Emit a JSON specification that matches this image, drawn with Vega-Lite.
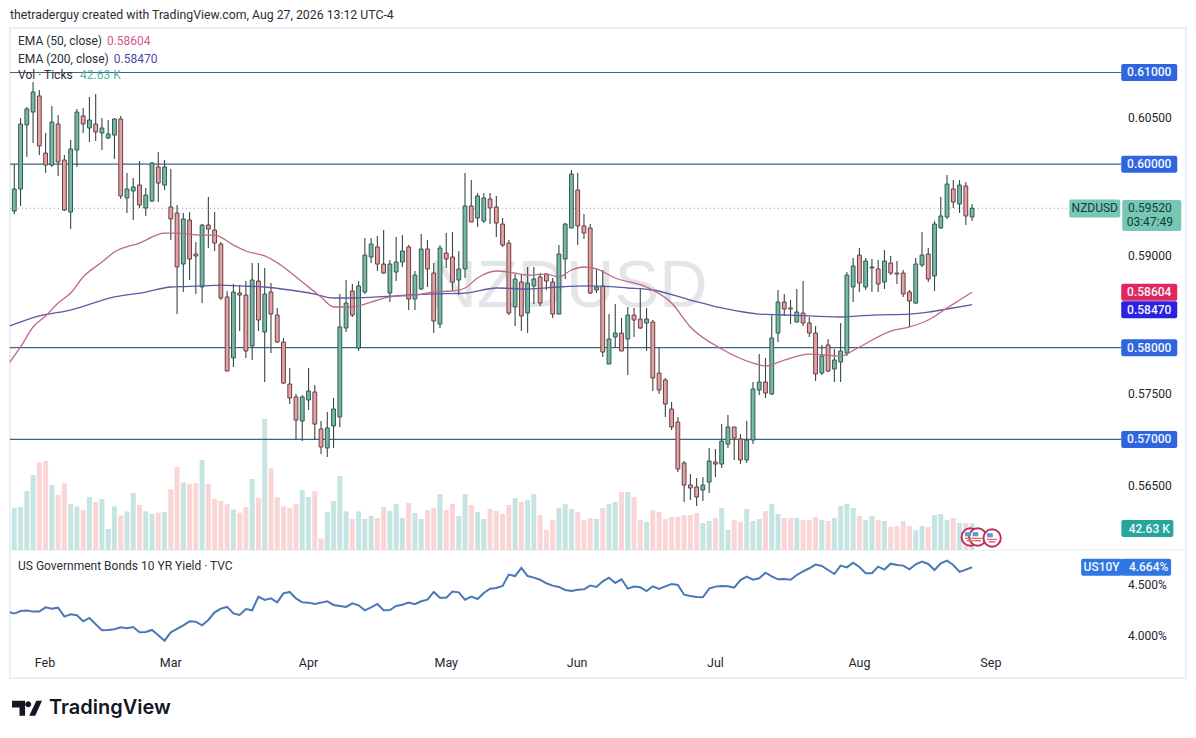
{"$schema":"https://vega.github.io/schema/vega-lite/v6.json","autosize":{"type":"fit","contains":"padding"},"width":1196,"height":738,"padding":0,"background":"#ffffff","config":{"view":{"stroke":null},"text":{"font":"Roboto"}},
"datasets":{
"ohlc":[
{"i":0,"o":0.5949,"h":0.60002,"l":0.59457,"c":0.5973,"v":67.7,"y10":4.209},
{"i":1,"o":0.5973,"h":0.60504,"l":0.59545,"c":0.60438,"v":68.8,"y10":4.235},
{"i":2,"o":0.60428,"h":0.60624,"l":0.60079,"c":0.60602,"v":94.3,"y10":4.239},
{"i":3,"o":0.60569,"h":0.60896,"l":0.60231,"c":0.60787,"v":119.9,"y10":4.229},
{"i":4,"o":0.60744,"h":0.60809,"l":0.601,"c":0.60199,"v":140.2,"y10":4.229},
{"i":5,"o":0.60122,"h":0.6034,"l":0.59904,"c":0.59991,"v":142.3,"y10":4.271},
{"i":6,"o":0.59991,"h":0.60635,"l":0.5997,"c":0.6046,"v":103.9,"y10":4.258},
{"i":7,"o":0.60438,"h":0.60536,"l":0.59872,"c":0.60024,"v":87.9,"y10":4.268},
{"i":8,"o":0.60046,"h":0.601,"l":0.5949,"c":0.59501,"v":106.6,"y10":4.18},
{"i":9,"o":0.59479,"h":0.60264,"l":0.59294,"c":0.60166,"v":73.6,"y10":4.203},
{"i":10,"o":0.60155,"h":0.60602,"l":0.5997,"c":0.60569,"v":69.8,"y10":4.193},
{"i":11,"o":0.60526,"h":0.60613,"l":0.6034,"c":0.60438,"v":64.0,"y10":4.134},
{"i":12,"o":0.60395,"h":0.60733,"l":0.60242,"c":0.60482,"v":84.7,"y10":4.167},
{"i":13,"o":0.60438,"h":0.60765,"l":0.60253,"c":0.60351,"v":76.8,"y10":4.105},
{"i":14,"o":0.6034,"h":0.60504,"l":0.60155,"c":0.60395,"v":81.5,"y10":4.046},
{"i":15,"o":0.60286,"h":0.60482,"l":0.60275,"c":0.60329,"v":33.6,"y10":4.049},
{"i":16,"o":0.60318,"h":0.60504,"l":0.60057,"c":0.60493,"v":69.8,"y10":4.056},
{"i":17,"o":0.60493,"h":0.60526,"l":0.59621,"c":0.59654,"v":55.4,"y10":4.075},
{"i":18,"o":0.59632,"h":0.59904,"l":0.59468,"c":0.5973,"v":61.8,"y10":4.065},
{"i":19,"o":0.59708,"h":0.5985,"l":0.59392,"c":0.59752,"v":91.1,"y10":4.078},
{"i":20,"o":0.59773,"h":0.60035,"l":0.59523,"c":0.59555,"v":72.0,"y10":4.026},
{"i":21,"o":0.59523,"h":0.59741,"l":0.59436,"c":0.59664,"v":61.8,"y10":4.029},
{"i":22,"o":0.59599,"h":0.60024,"l":0.59588,"c":0.60013,"v":57.6,"y10":4.049},
{"i":23,"o":0.5997,"h":0.60133,"l":0.59588,"c":0.59795,"v":59.7,"y10":3.997},
{"i":24,"o":0.59773,"h":0.60046,"l":0.59719,"c":0.5997,"v":60.8,"y10":3.944},
{"i":25,"o":0.59534,"h":0.59948,"l":0.59174,"c":0.59403,"v":97.5,"y10":4.026},
{"i":26,"o":0.59468,"h":0.59555,"l":0.58367,"c":0.5888,"v":132.7,"y10":4.059},
{"i":27,"o":0.58912,"h":0.59468,"l":0.58607,"c":0.59403,"v":108.2,"y10":4.095},
{"i":28,"o":0.59392,"h":0.59479,"l":0.58738,"c":0.58967,"v":105.5,"y10":4.134},
{"i":29,"o":0.59021,"h":0.59152,"l":0.58585,"c":0.59,"v":106.6,"y10":4.131},
{"i":30,"o":0.58662,"h":0.59348,"l":0.58487,"c":0.59337,"v":143.9,"y10":4.095},
{"i":31,"o":0.59337,"h":0.59643,"l":0.59087,"c":0.59294,"v":105.5,"y10":4.147},
{"i":32,"o":0.59283,"h":0.59479,"l":0.59054,"c":0.59141,"v":81.5,"y10":4.222},
{"i":33,"o":0.5913,"h":0.59152,"l":0.5852,"c":0.58542,"v":78.4,"y10":4.258},
{"i":34,"o":0.58553,"h":0.58618,"l":0.57746,"c":0.57746,"v":73.6,"y10":4.275},
{"i":35,"o":0.57888,"h":0.58694,"l":0.5779,"c":0.58607,"v":65.0,"y10":4.212},
{"i":36,"o":0.58596,"h":0.58683,"l":0.58182,"c":0.58574,"v":59.7,"y10":4.196},
{"i":37,"o":0.58574,"h":0.58727,"l":0.57888,"c":0.57964,"v":68.8,"y10":4.255},
{"i":38,"o":0.58019,"h":0.58923,"l":0.57866,"c":0.58738,"v":113.5,"y10":4.242},
{"i":39,"o":0.58727,"h":0.58923,"l":0.58182,"c":0.58302,"v":83.1,"y10":4.376},
{"i":40,"o":0.58171,"h":0.58869,"l":0.57626,"c":0.58585,"v":209.5,"y10":4.343},
{"i":41,"o":0.58607,"h":0.58705,"l":0.57942,"c":0.58367,"v":130.6,"y10":4.359},
{"i":42,"o":0.58356,"h":0.58433,"l":0.58051,"c":0.58062,"v":84.7,"y10":4.32},
{"i":43,"o":0.58062,"h":0.58106,"l":0.57604,"c":0.57615,"v":69.8,"y10":4.408},
{"i":44,"o":0.57604,"h":0.57779,"l":0.57386,"c":0.57452,"v":67.2,"y10":4.422},
{"i":45,"o":0.57463,"h":0.57495,"l":0.56994,"c":0.57212,"v":73.6,"y10":4.359},
{"i":46,"o":0.57201,"h":0.57484,"l":0.56983,"c":0.57463,"v":95.9,"y10":4.32},
{"i":47,"o":0.5743,"h":0.57779,"l":0.57321,"c":0.57528,"v":84.7,"y10":4.317},
{"i":48,"o":0.57517,"h":0.57593,"l":0.56994,"c":0.57168,"v":94.3,"y10":4.304},
{"i":49,"o":0.57114,"h":0.57201,"l":0.56841,"c":0.56918,"v":18.7,"y10":4.317},
{"i":50,"o":0.56907,"h":0.57299,"l":0.56809,"c":0.57125,"v":60.8,"y10":4.33},
{"i":51,"o":0.57147,"h":0.57452,"l":0.56907,"c":0.57332,"v":78.4,"y10":4.294},
{"i":52,"o":0.57245,"h":0.58585,"l":0.57136,"c":0.58226,"v":118.3,"y10":4.284},
{"i":53,"o":0.58215,"h":0.58738,"l":0.58171,"c":0.58487,"v":61.8,"y10":4.275},
{"i":54,"o":0.58618,"h":0.58694,"l":0.58335,"c":0.58356,"v":49.6,"y10":4.31},
{"i":55,"o":0.57997,"h":0.58727,"l":0.57964,"c":0.58673,"v":61.8,"y10":4.291},
{"i":56,"o":0.58607,"h":0.59196,"l":0.58585,"c":0.5901,"v":49.6,"y10":4.242},
{"i":57,"o":0.58989,"h":0.59196,"l":0.58923,"c":0.5913,"v":54.4,"y10":4.271},
{"i":58,"o":0.59098,"h":0.59218,"l":0.58836,"c":0.58912,"v":51.2,"y10":4.304},
{"i":59,"o":0.58912,"h":0.59283,"l":0.58803,"c":0.58814,"v":68.8,"y10":4.242},
{"i":60,"o":0.58596,"h":0.58956,"l":0.58498,"c":0.58912,"v":62.4,"y10":4.245},
{"i":61,"o":0.58825,"h":0.59207,"l":0.58727,"c":0.58934,"v":73.6,"y10":4.284},
{"i":62,"o":0.58934,"h":0.59228,"l":0.5888,"c":0.59054,"v":51.2,"y10":4.297},
{"i":63,"o":0.59098,"h":0.59119,"l":0.58411,"c":0.58531,"v":75.2,"y10":4.317},
{"i":64,"o":0.58531,"h":0.58836,"l":0.58411,"c":0.58792,"v":59.2,"y10":4.301},
{"i":65,"o":0.5864,"h":0.59239,"l":0.58629,"c":0.59076,"v":49.6,"y10":4.33},
{"i":66,"o":0.59076,"h":0.59174,"l":0.58662,"c":0.58858,"v":64.0,"y10":4.346},
{"i":67,"o":0.58814,"h":0.58923,"l":0.5816,"c":0.58291,"v":67.2,"y10":4.422},
{"i":68,"o":0.58258,"h":0.59119,"l":0.58215,"c":0.59087,"v":89.5,"y10":4.366},
{"i":69,"o":0.59032,"h":0.5925,"l":0.58869,"c":0.58967,"v":64.0,"y10":4.366},
{"i":70,"o":0.58989,"h":0.59261,"l":0.58618,"c":0.58716,"v":73.6,"y10":4.425},
{"i":71,"o":0.58738,"h":0.59054,"l":0.58574,"c":0.58858,"v":54.4,"y10":4.418},
{"i":72,"o":0.58858,"h":0.59904,"l":0.5876,"c":0.59545,"v":89.5,"y10":4.346},
{"i":73,"o":0.59545,"h":0.59828,"l":0.5937,"c":0.5937,"v":72.0,"y10":4.376},
{"i":74,"o":0.59414,"h":0.59686,"l":0.59316,"c":0.59654,"v":60.8,"y10":4.353},
{"i":75,"o":0.59381,"h":0.59686,"l":0.59359,"c":0.59632,"v":49.6,"y10":4.412},
{"i":76,"o":0.59621,"h":0.59686,"l":0.59348,"c":0.59523,"v":65.6,"y10":4.454},
{"i":77,"o":0.59534,"h":0.59654,"l":0.59207,"c":0.59359,"v":62.4,"y10":4.461},
{"i":78,"o":0.59348,"h":0.59414,"l":0.59098,"c":0.59119,"v":57.6,"y10":4.48},
{"i":79,"o":0.59141,"h":0.59174,"l":0.58356,"c":0.58378,"v":72.0,"y10":4.592},
{"i":80,"o":0.58444,"h":0.58803,"l":0.58237,"c":0.58749,"v":83.1,"y10":4.578},
{"i":81,"o":0.58716,"h":0.58792,"l":0.58182,"c":0.58346,"v":76.8,"y10":4.657},
{"i":82,"o":0.58378,"h":0.5888,"l":0.5816,"c":0.58705,"v":80.0,"y10":4.578},
{"i":83,"o":0.58673,"h":0.5888,"l":0.58476,"c":0.58749,"v":89.5,"y10":4.562},
{"i":84,"o":0.58771,"h":0.58814,"l":0.58455,"c":0.58487,"v":56.0,"y10":4.542},
{"i":85,"o":0.58803,"h":0.58814,"l":0.58629,"c":0.58727,"v":32.0,"y10":4.507},
{"i":86,"o":0.58716,"h":0.5876,"l":0.58324,"c":0.58367,"v":48.0,"y10":4.484},
{"i":87,"o":0.58367,"h":0.59119,"l":0.58367,"c":0.59021,"v":67.2,"y10":4.471},
{"i":88,"o":0.58967,"h":0.59359,"l":0.58749,"c":0.59348,"v":73.6,"y10":4.441},
{"i":89,"o":0.59305,"h":0.59937,"l":0.59305,"c":0.59893,"v":65.6,"y10":4.431},
{"i":90,"o":0.59719,"h":0.59904,"l":0.59119,"c":0.59327,"v":60.8,"y10":4.444},
{"i":91,"o":0.59327,"h":0.59457,"l":0.59185,"c":0.5925,"v":48.0,"y10":4.448},
{"i":92,"o":0.59305,"h":0.59348,"l":0.58585,"c":0.58596,"v":51.2,"y10":4.484},
{"i":93,"o":0.58629,"h":0.58858,"l":0.58596,"c":0.58662,"v":49.6,"y10":4.471},
{"i":94,"o":0.58673,"h":0.58847,"l":0.57899,"c":0.57953,"v":67.2,"y10":4.526},
{"i":95,"o":0.57822,"h":0.58367,"l":0.57822,"c":0.58095,"v":73.6,"y10":4.562},
{"i":96,"o":0.58117,"h":0.58476,"l":0.57997,"c":0.5816,"v":76.8,"y10":4.51},
{"i":97,"o":0.5816,"h":0.58324,"l":0.57964,"c":0.57964,"v":92.7,"y10":4.546},
{"i":98,"o":0.58095,"h":0.58444,"l":0.57702,"c":0.58356,"v":92.7,"y10":4.454},
{"i":99,"o":0.58356,"h":0.58433,"l":0.58117,"c":0.58302,"v":84.7,"y10":4.474},
{"i":100,"o":0.58313,"h":0.58651,"l":0.58204,"c":0.58215,"v":48.0,"y10":4.467},
{"i":101,"o":0.58269,"h":0.58433,"l":0.57964,"c":0.58313,"v":44.8,"y10":4.431},
{"i":102,"o":0.5828,"h":0.58302,"l":0.57528,"c":0.5767,"v":64.0,"y10":4.477},
{"i":103,"o":0.57724,"h":0.57997,"l":0.57495,"c":0.57539,"v":60.8,"y10":4.451},
{"i":104,"o":0.57648,"h":0.5767,"l":0.57245,"c":0.57386,"v":49.6,"y10":4.477},
{"i":105,"o":0.57332,"h":0.57408,"l":0.57103,"c":0.57136,"v":52.8,"y10":4.5},
{"i":106,"o":0.5719,"h":0.57245,"l":0.56645,"c":0.56678,"v":52.8,"y10":4.49},
{"i":107,"o":0.56743,"h":0.56765,"l":0.56318,"c":0.56503,"v":56.0,"y10":4.395},
{"i":108,"o":0.56503,"h":0.56623,"l":0.5634,"c":0.56471,"v":56.0,"y10":4.382},
{"i":109,"o":0.56482,"h":0.5658,"l":0.56275,"c":0.56373,"v":59.2,"y10":4.373},
{"i":110,"o":0.56449,"h":0.56591,"l":0.56329,"c":0.56503,"v":43.2,"y10":4.369},
{"i":111,"o":0.56536,"h":0.56907,"l":0.56416,"c":0.56765,"v":46.4,"y10":4.454},
{"i":112,"o":0.56754,"h":0.56896,"l":0.56591,"c":0.56732,"v":51.2,"y10":4.474},
{"i":113,"o":0.56732,"h":0.57168,"l":0.56689,"c":0.56983,"v":67.2,"y10":4.48},
{"i":114,"o":0.5695,"h":0.57266,"l":0.56907,"c":0.57136,"v":32.0,"y10":4.477},
{"i":115,"o":0.57136,"h":0.57136,"l":0.56776,"c":0.57016,"v":48.0,"y10":4.464},
{"i":116,"o":0.57005,"h":0.57059,"l":0.56732,"c":0.56776,"v":44.8,"y10":4.539},
{"i":117,"o":0.56776,"h":0.57201,"l":0.56743,"c":0.56994,"v":65.6,"y10":4.572},
{"i":118,"o":0.56994,"h":0.57626,"l":0.5695,"c":0.5755,"v":46.4,"y10":4.542},
{"i":119,"o":0.57539,"h":0.57931,"l":0.57484,"c":0.57626,"v":49.6,"y10":4.556},
{"i":120,"o":0.57626,"h":0.57888,"l":0.57452,"c":0.57506,"v":62.4,"y10":4.611},
{"i":121,"o":0.57495,"h":0.58356,"l":0.57484,"c":0.58106,"v":73.6,"y10":4.575},
{"i":122,"o":0.5816,"h":0.58629,"l":0.58062,"c":0.58498,"v":57.6,"y10":4.546},
{"i":123,"o":0.58498,"h":0.58585,"l":0.58346,"c":0.58422,"v":51.2,"y10":4.549},
{"i":124,"o":0.58433,"h":0.5852,"l":0.58258,"c":0.58422,"v":51.2,"y10":4.542},
{"i":125,"o":0.5828,"h":0.5864,"l":0.5828,"c":0.58389,"v":51.2,"y10":4.588},
{"i":126,"o":0.58378,"h":0.58727,"l":0.58237,"c":0.58269,"v":48.0,"y10":4.624},
{"i":127,"o":0.58269,"h":0.58335,"l":0.58117,"c":0.5816,"v":48.0,"y10":4.654},
{"i":128,"o":0.5816,"h":0.58237,"l":0.57637,"c":0.57713,"v":52.8,"y10":4.69},
{"i":129,"o":0.57724,"h":0.5803,"l":0.57702,"c":0.5791,"v":48.0,"y10":4.676},
{"i":130,"o":0.5803,"h":0.58095,"l":0.57735,"c":0.57746,"v":46.4,"y10":4.637},
{"i":131,"o":0.57768,"h":0.57986,"l":0.57626,"c":0.57866,"v":51.2,"y10":4.598},
{"i":132,"o":0.57844,"h":0.58269,"l":0.57626,"c":0.57964,"v":70.4,"y10":4.68},
{"i":133,"o":0.57942,"h":0.58825,"l":0.5791,"c":0.58792,"v":73.6,"y10":4.663},
{"i":134,"o":0.58662,"h":0.58978,"l":0.58498,"c":0.58891,"v":67.2,"y10":4.709},
{"i":135,"o":0.5901,"h":0.59087,"l":0.58607,"c":0.58705,"v":54.4,"y10":4.667},
{"i":136,"o":0.58662,"h":0.58978,"l":0.58629,"c":0.58945,"v":48.0,"y10":4.605},
{"i":137,"o":0.58869,"h":0.58967,"l":0.58607,"c":0.5888,"v":54.4,"y10":4.605},
{"i":138,"o":0.58858,"h":0.58956,"l":0.58607,"c":0.58694,"v":48.0,"y10":4.67},
{"i":139,"o":0.58716,"h":0.59065,"l":0.5864,"c":0.58945,"v":46.4,"y10":4.641},
{"i":140,"o":0.58923,"h":0.59,"l":0.58792,"c":0.58814,"v":36.8,"y10":4.699},
{"i":141,"o":0.58814,"h":0.58945,"l":0.58694,"c":0.58803,"v":38.4,"y10":4.686},
{"i":142,"o":0.58814,"h":0.58847,"l":0.58553,"c":0.58585,"v":46.4,"y10":4.68},
{"i":143,"o":0.58607,"h":0.58629,"l":0.58226,"c":0.58509,"v":38.4,"y10":4.644},
{"i":144,"o":0.58487,"h":0.58978,"l":0.58476,"c":0.58912,"v":32.0,"y10":4.693},
{"i":145,"o":0.58901,"h":0.59261,"l":0.5888,"c":0.5901,"v":38.4,"y10":4.719},
{"i":146,"o":0.59021,"h":0.59087,"l":0.58716,"c":0.58749,"v":36.8,"y10":4.696},
{"i":147,"o":0.58782,"h":0.59381,"l":0.58618,"c":0.59348,"v":56.0,"y10":4.637},
{"i":148,"o":0.59305,"h":0.59643,"l":0.59294,"c":0.59436,"v":57.6,"y10":4.703},
{"i":149,"o":0.59425,"h":0.59882,"l":0.59403,"c":0.59784,"v":48.0,"y10":4.729},
{"i":150,"o":0.5973,"h":0.59828,"l":0.59523,"c":0.59588,"v":51.2,"y10":4.686},
{"i":151,"o":0.59566,"h":0.59828,"l":0.59468,"c":0.59773,"v":43.2,"y10":4.618},
{"i":152,"o":0.59763,"h":0.59806,"l":0.59337,"c":0.59436,"v":43.2,"y10":4.641},
{"i":153,"o":0.59425,"h":0.59566,"l":0.59381,"c":0.5952,"v":42.63,"y10":4.664}
],
"ema50":[{"i":-0.7,"p":0.57844},{"i":1,"p":0.58008},{"i":3,"p":0.58226},{"i":5,"p":0.58346},{"i":7,"p":0.58487},{"i":9,"p":0.58596},{"i":11,"p":0.58771},{"i":14,"p":0.58934},{"i":16,"p":0.59043},{"i":20,"p":0.59141},{"i":24,"p":0.5925},{"i":26,"p":0.5925},{"i":30,"p":0.59228},{"i":32,"p":0.59228},{"i":35,"p":0.59119},{"i":37,"p":0.59054},{"i":40,"p":0.59},{"i":43,"p":0.5888},{"i":46,"p":0.58716},{"i":49,"p":0.58553},{"i":51,"p":0.58444},{"i":54,"p":0.58444},{"i":57,"p":0.58498},{"i":60,"p":0.58553},{"i":64,"p":0.58574},{"i":67,"p":0.58607},{"i":70,"p":0.58618},{"i":72,"p":0.58651},{"i":74,"p":0.5876},{"i":77,"p":0.58836},{"i":79,"p":0.58825},{"i":82,"p":0.58792},{"i":85,"p":0.58803},{"i":87,"p":0.58771},{"i":89,"p":0.58847},{"i":91,"p":0.5888},{"i":93,"p":0.58858},{"i":96,"p":0.5876},{"i":101,"p":0.58662},{"i":105,"p":0.58487},{"i":108,"p":0.58226},{"i":113,"p":0.57986},{"i":118,"p":0.57833},{"i":120,"p":0.57801},{"i":123,"p":0.57866},{"i":127,"p":0.57931},{"i":132,"p":0.5791},{"i":135,"p":0.58008},{"i":140,"p":0.58182},{"i":143,"p":0.58226},{"i":146,"p":0.58302},{"i":149,"p":0.58433},{"i":151,"p":0.5852},{"i":153,"p":0.58604}],
"ema200":[{"i":-0.7,"p":0.58237},{"i":4,"p":0.58346},{"i":9,"p":0.58411},{"i":16,"p":0.58553},{"i":21,"p":0.58607},{"i":25,"p":0.58662},{"i":30,"p":0.58673},{"i":33,"p":0.58683},{"i":36,"p":0.58673},{"i":40,"p":0.58662},{"i":44,"p":0.58629},{"i":48,"p":0.58585},{"i":51,"p":0.58542},{"i":54,"p":0.58542},{"i":60,"p":0.58563},{"i":66,"p":0.58585},{"i":72,"p":0.58596},{"i":77,"p":0.58651},{"i":82,"p":0.5864},{"i":87,"p":0.58662},{"i":92,"p":0.58673},{"i":98,"p":0.58651},{"i":102,"p":0.58629},{"i":108,"p":0.5852},{"i":113,"p":0.58433},{"i":119,"p":0.58367},{"i":124,"p":0.58356},{"i":132,"p":0.58335},{"i":137,"p":0.58356},{"i":143,"p":0.58367},{"i":146,"p":0.58389},{"i":149,"p":0.58422},{"i":153,"p":0.5847}],
"levels":[{"p":0.61,"t":"0.61000"},{"p":0.6,"t":"0.60000"},{"p":0.58,"t":"0.58000"},{"p":0.57,"t":"0.57000"}],
"ticks":[{"p":0.605,"t":"0.60500"},{"p":0.59,"t":"0.59000"},{"p":0.57495,"t":"0.57500"},{"p":0.56493,"t":"0.56500"}],
"darktext":[{"i":0.6,"p":0.61343,"t":"EMA (50, close)"},{"i":0.6,"p":0.61147,"t":"EMA (200, close)"},{"i":0.6,"p":0.60972,"t":"Vol · Ticks"},{"i":0.6,"p":0.55621,"t":"US Government Bonds 10 YR Yield · TVC"}],
"months":[{"i":4.9,"t":"Feb"},{"i":25,"t":"Mar"},{"i":47,"t":"Apr"},{"i":69,"t":"May"},{"i":89.9,"t":"Jun"},{"i":112,"t":"Jul"},{"i":135,"t":"Aug"},{"i":156,"t":"Sep"}],
"flags":[{"i":152.7,"v":20.8},{"i":153.9,"v":20.8},{"i":156.2,"v":19.2}],
"pane":[{"a":-0.69,"b":187.16,"top":0.61485,"bot":0.544}]
},
"layer":[
{"data":{"name":"pane"},"mark":{"type":"rect","fill":"#ffffff","stroke":"#eceef1","strokeWidth":2},"encoding":{"x":{"field":"a","type":"quantitative","scale":{"domain":[-2.284,188.77],"nice":false,"zero":false,"padding":0},"axis":null},"x2":{"field":"b"},"y":{"field":"top","type":"quantitative","scale":{"domain":[0.53746,0.6179],"nice":false,"zero":false},"axis":null},"y2":{"field":"bot"}}},
{"data":{"name":"pane"},"mark":{"type":"rule","color":"#e8eaee","strokeWidth":1},"encoding":{"x":{"field":"a","type":"quantitative","scale":{"domain":[-2.284,188.77],"nice":false,"zero":false,"padding":0},"axis":null},"x2":{"field":"b"},"y":{"datum":0.55795,"type":"quantitative","scale":{"domain":[0.53746,0.6179],"nice":false,"zero":false},"axis":null}}},
{"data":{"values":[{"i":88.45,"p":0.5866,"t":"NZDUSD"}]},"mark":{"type":"text","font":"Liberation Sans","fontSize":67,"color":"#e3e5e9","align":"center","baseline":"middle"},"encoding":{"x":{"field":"i","type":"quantitative","scale":{"domain":[-2.284,188.77],"nice":false,"zero":false,"padding":0},"axis":null},"y":{"field":"p","type":"quantitative","scale":{"domain":[0.53746,0.6179],"nice":false,"zero":false},"axis":null},"text":{"field":"t"}}},
{"data":{"name":"ohlc"},"mark":{"type":"bar","size":5},"encoding":{"x":{"field":"i","type":"quantitative","scale":{"domain":[-2.284,188.77],"nice":false,"zero":false,"padding":0},"axis":null},"y":{"field":"v","type":"quantitative","scale":{"domain":[-300.8,880],"nice":false,"zero":false},"axis":null},"y2":{"datum":0},"fill":{"condition":{"test":"datum.c>=datum.o","value":"#c6e5e2"},"value":"#f9d6d5"}}},
{"data":{"name":"levels"},"mark":{"type":"rule","color":"#3a6585","strokeWidth":1.2},"encoding":{"x":{"datum":-0.69,"type":"quantitative","scale":{"domain":[-2.284,188.77],"nice":false,"zero":false,"padding":0},"axis":null},"x2":{"datum":176.8},"y":{"field":"p","type":"quantitative","scale":{"domain":[0.53746,0.6179],"nice":false,"zero":false},"axis":null}}},
{"data":{"values":[{"p":0.5952}]},"mark":{"type":"rule","color":"#8f9aa0","strokeWidth":1,"strokeDash":[1,3]},"encoding":{"x":{"datum":-0.69,"type":"quantitative","scale":{"domain":[-2.284,188.77],"nice":false,"zero":false,"padding":0},"axis":null},"x2":{"datum":168.6},"y":{"field":"p","type":"quantitative","scale":{"domain":[0.53746,0.6179],"nice":false,"zero":false},"axis":null}}},
{"data":{"name":"ohlc"},"mark":{"type":"rule","color":"#36474a","strokeWidth":1.1},"encoding":{"x":{"field":"i","type":"quantitative","scale":{"domain":[-2.284,188.77],"nice":false,"zero":false,"padding":0},"axis":null},"y":{"field":"h","type":"quantitative","scale":{"domain":[0.53746,0.6179],"nice":false,"zero":false},"axis":null},"y2":{"field":"l"}}},
{"data":{"name":"ohlc"},"mark":{"type":"bar","size":3.8,"strokeWidth":1},"encoding":{"x":{"field":"i","type":"quantitative","scale":{"domain":[-2.284,188.77],"nice":false,"zero":false,"padding":0},"axis":null},"y":{"field":"o","type":"quantitative","scale":{"domain":[0.53746,0.6179],"nice":false,"zero":false},"axis":null},"y2":{"field":"c"},"fill":{"condition":{"test":"datum.c>=datum.o","value":"#78b7a6"},"value":"#e0a3a1"},"stroke":{"condition":{"test":"datum.c>=datum.o","value":"#2f5a50"},"value":"#6b3d42"}}},
{"data":{"name":"ema200"},"mark":{"type":"line","color":"#5a5aa8","strokeWidth":1.3,"interpolate":"monotone"},"encoding":{"x":{"field":"i","type":"quantitative","scale":{"domain":[-2.284,188.77],"nice":false,"zero":false,"padding":0},"axis":null},"y":{"field":"p","type":"quantitative","scale":{"domain":[0.53746,0.6179],"nice":false,"zero":false},"axis":null}}},
{"data":{"name":"ema50"},"mark":{"type":"line","color":"#bd6a88","strokeWidth":1.3,"interpolate":"monotone"},"encoding":{"x":{"field":"i","type":"quantitative","scale":{"domain":[-2.284,188.77],"nice":false,"zero":false,"padding":0},"axis":null},"y":{"field":"p","type":"quantitative","scale":{"domain":[0.53746,0.6179],"nice":false,"zero":false},"axis":null}}},
{"data":{"name":"ohlc"},"mark":{"type":"line","color":"#4a77b8","strokeWidth":2},"encoding":{"x":{"field":"i","type":"quantitative","scale":{"domain":[-2.284,188.77],"nice":false,"zero":false,"padding":0},"axis":null},"y":{"field":"y10","type":"quantitative","scale":{"domain":[2.99,10.225],"nice":false,"zero":false},"axis":null}}},
{"data":{"values":[{"i":-0.7,"y10":4.222},{"i":0,"y10":4.209}]},"mark":{"type":"line","color":"#4a77b8","strokeWidth":2},"encoding":{"x":{"field":"i","type":"quantitative","scale":{"domain":[-2.284,188.77],"nice":false,"zero":false,"padding":0},"axis":null},"y":{"field":"y10","type":"quantitative","scale":{"domain":[2.99,10.225],"nice":false,"zero":false},"axis":null}}},
{"data":{"name":"flags"},"mark":{"type":"point","filled":true,"fill":"#ffffff","stroke":"#b8305a","strokeWidth":2,"shape":"circle","size":300,"opacity":1},"encoding":{"x":{"field":"i","type":"quantitative","scale":{"domain":[-2.284,188.77],"nice":false,"zero":false,"padding":0},"axis":null},"y":{"field":"v","type":"quantitative","scale":{"domain":[-300.8,880],"nice":false,"zero":false},"axis":null}}},
{"data":{"name":"flags"},"mark":{"type":"point","filled":true,"fill":"#6d93cf","shape":"M-0.75 -0.7H0.1V-0.1H-0.75Z","size":190,"opacity":1},"encoding":{"x":{"field":"i","type":"quantitative","scale":{"domain":[-2.284,188.77],"nice":false,"zero":false,"padding":0},"axis":null},"y":{"field":"v","type":"quantitative","scale":{"domain":[-300.8,880],"nice":false,"zero":false},"axis":null}}},
{"data":{"name":"flags"},"mark":{"type":"point","filled":true,"fill":"#e4686c","shape":"M-0.75 0.1H0.75V0.3H-0.75ZM-0.5 0.45H0.5V0.65H-0.5Z","size":190,"opacity":1},"encoding":{"x":{"field":"i","type":"quantitative","scale":{"domain":[-2.284,188.77],"nice":false,"zero":false,"padding":0},"axis":null},"y":{"field":"v","type":"quantitative","scale":{"domain":[-300.8,880],"nice":false,"zero":false},"axis":null}}},
{"data":{"name":"levels"},"mark":{"type":"rect","width":56,"height":17,"cornerRadius":2,"fill":"#2f66e0"},"encoding":{"x":{"datum":181.3,"type":"quantitative","scale":{"domain":[-2.284,188.77],"nice":false,"zero":false,"padding":0},"axis":null},"y":{"field":"p","type":"quantitative","scale":{"domain":[0.53746,0.6179],"nice":false,"zero":false},"axis":null}}},
{"data":{"values":[{"p":0.58604}]},"mark":{"type":"rect","width":56,"height":17,"cornerRadius":2,"fill":"#e0285f"},"encoding":{"x":{"datum":181.3,"type":"quantitative","scale":{"domain":[-2.284,188.77],"nice":false,"zero":false,"padding":0},"axis":null},"y":{"field":"p","type":"quantitative","scale":{"domain":[0.53746,0.6179],"nice":false,"zero":false},"axis":null}}},
{"data":{"values":[{"p":0.58415}]},"mark":{"type":"rect","width":56,"height":17,"cornerRadius":2,"fill":"#2a22e0"},"encoding":{"x":{"datum":181.3,"type":"quantitative","scale":{"domain":[-2.284,188.77],"nice":false,"zero":false,"padding":0},"axis":null},"y":{"field":"p","type":"quantitative","scale":{"domain":[0.53746,0.6179],"nice":false,"zero":false},"axis":null}}},
{"data":{"values":[{"p":0.56029}]},"mark":{"type":"rect","width":52,"height":17,"cornerRadius":2,"fill":"#26a69a"},"encoding":{"x":{"datum":181,"type":"quantitative","scale":{"domain":[-2.284,188.77],"nice":false,"zero":false,"padding":0},"axis":null},"y":{"field":"p","type":"quantitative","scale":{"domain":[0.53746,0.6179],"nice":false,"zero":false},"axis":null}}},
{"data":{"values":[{"y10":4.664}]},"mark":{"type":"rect","width":50,"height":17,"cornerRadius":2,"fill":"#2f78e4"},"encoding":{"x":{"datum":180.8,"type":"quantitative","scale":{"domain":[-2.284,188.77],"nice":false,"zero":false,"padding":0},"axis":null},"y":{"field":"y10","type":"quantitative","scale":{"domain":[2.99,10.225],"nice":false,"zero":false},"axis":null}}},
{"data":{"values":[{"y10":4.664}]},"mark":{"type":"rect","width":41,"height":17,"cornerRadius":2,"fill":"#2f78e4"},"encoding":{"x":{"datum":173.7,"type":"quantitative","scale":{"domain":[-2.284,188.77],"nice":false,"zero":false,"padding":0},"axis":null},"y":{"field":"y10","type":"quantitative","scale":{"domain":[2.99,10.225],"nice":false,"zero":false},"axis":null}}},
{"data":{"values":[{"p":0.59518}]},"mark":{"type":"rect","width":51,"height":18,"cornerRadius":2,"fill":"#76c7b4"},"encoding":{"x":{"datum":172.6,"type":"quantitative","scale":{"domain":[-2.284,188.77],"nice":false,"zero":false,"padding":0},"axis":null},"y":{"field":"p","type":"quantitative","scale":{"domain":[0.53746,0.6179],"nice":false,"zero":false},"axis":null}}},
{"data":{"values":[{"p":0.59441}]},"mark":{"type":"rect","width":59,"height":31,"cornerRadius":2,"fill":"#76c7b4"},"encoding":{"x":{"datum":181.7,"type":"quantitative","scale":{"domain":[-2.284,188.77],"nice":false,"zero":false,"padding":0},"axis":null},"y":{"field":"p","type":"quantitative","scale":{"domain":[0.53746,0.6179],"nice":false,"zero":false},"axis":null}}},
{"data":{"name":"ticks"},"mark":{"type":"text","fontSize":12,"color":"#1f2430","align":"center","baseline":"middle"},"encoding":{"x":{"datum":181.4,"type":"quantitative","scale":{"domain":[-2.284,188.77],"nice":false,"zero":false,"padding":0},"axis":null},"y":{"field":"p","type":"quantitative","scale":{"domain":[0.53746,0.6179],"nice":false,"zero":false},"axis":null},"text":{"field":"t"}}},
{"data":{"values":[{"p":0.61,"t":"0.61000"},{"p":0.6,"t":"0.60000"},{"p":0.58,"t":"0.58000"},{"p":0.57,"t":"0.57000"},{"p":0.58604,"t":"0.58604"},{"p":0.58415,"t":"0.58470"},{"p":0.56029,"t":"42.63 K"}]},"mark":{"type":"text","fontSize":12,"fontWeight":500,"color":"#f2f6fa","align":"center","baseline":"middle"},"encoding":{"x":{"datum":181.3,"type":"quantitative","scale":{"domain":[-2.284,188.77],"nice":false,"zero":false,"padding":0},"axis":null},"y":{"field":"p","type":"quantitative","scale":{"domain":[0.53746,0.6179],"nice":false,"zero":false},"axis":null},"text":{"field":"t"}}},
{"data":{"values":[{"i":172.6,"p":0.59518,"t":"NZDUSD"},{"i":181.4,"p":0.59518,"t":"0.59520"},{"i":181.4,"p":0.59365,"t":"03:47:49"}]},"mark":{"type":"text","fontSize":12,"color":"#123c36","align":"center","baseline":"middle"},"encoding":{"x":{"field":"i","type":"quantitative","scale":{"domain":[-2.284,188.77],"nice":false,"zero":false,"padding":0},"axis":null},"y":{"field":"p","type":"quantitative","scale":{"domain":[0.53746,0.6179],"nice":false,"zero":false},"axis":null},"text":{"field":"t"}}},
{"data":{"values":[{"i":173.7,"y10":4.664,"t":"US10Y"},{"i":181.2,"y10":4.664,"t":"4.664%"}]},"mark":{"type":"text","fontSize":12,"fontWeight":500,"color":"#f2f6fa","align":"center","baseline":"middle"},"encoding":{"x":{"field":"i","type":"quantitative","scale":{"domain":[-2.284,188.77],"nice":false,"zero":false,"padding":0},"axis":null},"y":{"field":"y10","type":"quantitative","scale":{"domain":[2.99,10.225],"nice":false,"zero":false},"axis":null},"text":{"field":"t"}}},
{"data":{"values":[{"y10":4.49,"t":"4.500%"},{"y10":3.99,"t":"4.000%"}]},"mark":{"type":"text","fontSize":12,"color":"#1f2430","align":"center","baseline":"middle"},"encoding":{"x":{"datum":181,"type":"quantitative","scale":{"domain":[-2.284,188.77],"nice":false,"zero":false,"padding":0},"axis":null},"y":{"field":"y10","type":"quantitative","scale":{"domain":[2.99,10.225],"nice":false,"zero":false},"axis":null},"text":{"field":"t"}}},
{"data":{"values":[{"i":-0.69,"p":0.61627,"t":"thetraderguy created with TradingView.com, Aug 27, 2026 13:12 UTC-4"}]},"mark":{"type":"text","fontSize":12.3,"color":"#2a2e39","align":"left","baseline":"middle"},"encoding":{"x":{"field":"i","type":"quantitative","scale":{"domain":[-2.284,188.77],"nice":false,"zero":false,"padding":0},"axis":null},"y":{"field":"p","type":"quantitative","scale":{"domain":[0.53746,0.6179],"nice":false,"zero":false},"axis":null},"text":{"field":"t"}}},
{"data":{"name":"darktext"},"mark":{"type":"text","fontSize":12,"color":"#2a2e39","align":"left","baseline":"middle"},"encoding":{"x":{"field":"i","type":"quantitative","scale":{"domain":[-2.284,188.77],"nice":false,"zero":false,"padding":0},"axis":null},"y":{"field":"p","type":"quantitative","scale":{"domain":[0.53746,0.6179],"nice":false,"zero":false},"axis":null},"text":{"field":"t"}}},
{"data":{"values":[{"i":14.8,"p":0.61343,"t":"0.58604"}]},"mark":{"type":"text","fontSize":12,"color":"#d4568e","align":"left","baseline":"middle"},"encoding":{"x":{"field":"i","type":"quantitative","scale":{"domain":[-2.284,188.77],"nice":false,"zero":false,"padding":0},"axis":null},"y":{"field":"p","type":"quantitative","scale":{"domain":[0.53746,0.6179],"nice":false,"zero":false},"axis":null},"text":{"field":"t"}}},
{"data":{"values":[{"i":15.9,"p":0.61147,"t":"0.58470"}]},"mark":{"type":"text","fontSize":12,"color":"#4c48a8","align":"left","baseline":"middle"},"encoding":{"x":{"field":"i","type":"quantitative","scale":{"domain":[-2.284,188.77],"nice":false,"zero":false,"padding":0},"axis":null},"y":{"field":"p","type":"quantitative","scale":{"domain":[0.53746,0.6179],"nice":false,"zero":false},"axis":null},"text":{"field":"t"}}},
{"data":{"values":[{"i":10.5,"p":0.60972,"t":"42.63 K"}]},"mark":{"type":"text","fontSize":12,"color":"#55b5a6","align":"left","baseline":"middle"},"encoding":{"x":{"field":"i","type":"quantitative","scale":{"domain":[-2.284,188.77],"nice":false,"zero":false,"padding":0},"axis":null},"y":{"field":"p","type":"quantitative","scale":{"domain":[0.53746,0.6179],"nice":false,"zero":false},"axis":null},"text":{"field":"t"}}},
{"data":{"name":"months"},"mark":{"type":"text","fontSize":12.5,"color":"#1f2430","align":"center","baseline":"middle"},"encoding":{"x":{"field":"i","type":"quantitative","scale":{"domain":[-2.284,188.77],"nice":false,"zero":false,"padding":0},"axis":null},"y":{"datum":0.54563,"type":"quantitative","scale":{"domain":[0.53746,0.6179],"nice":false,"zero":false},"axis":null},"text":{"field":"t"}}},
{"data":{"values":[{"i":2.03,"p":0.5407}]},"mark":{"type":"point","filled":true,"fill":"#131722","opacity":1,"size":900,"shape":"M-1 -0.5H-0.13V0.5H-0.5V-0.05H-1ZM0.28 -0.27A0.2 0.2 0 1 1 -0.12 -0.27A0.2 0.2 0 1 1 0.28 -0.27ZM0.62 -0.5H1L0.55 0.5H0.15Z"},"encoding":{"x":{"field":"i","type":"quantitative","scale":{"domain":[-2.284,188.77],"nice":false,"zero":false,"padding":0},"axis":null},"y":{"field":"p","type":"quantitative","scale":{"domain":[0.53746,0.6179],"nice":false,"zero":false},"axis":null}}},
{"data":{"values":[{"i":5.55,"p":0.5407,"t":"TradingView"}]},"mark":{"type":"text","font":"Inter","fontWeight":600,"fontSize":20,"color":"#131722","align":"left","baseline":"middle"},"encoding":{"x":{"field":"i","type":"quantitative","scale":{"domain":[-2.284,188.77],"nice":false,"zero":false,"padding":0},"axis":null},"y":{"field":"p","type":"quantitative","scale":{"domain":[0.53746,0.6179],"nice":false,"zero":false},"axis":null},"text":{"field":"t"}}}
],
"resolve":{"scale":{"y":"independent"}}}
